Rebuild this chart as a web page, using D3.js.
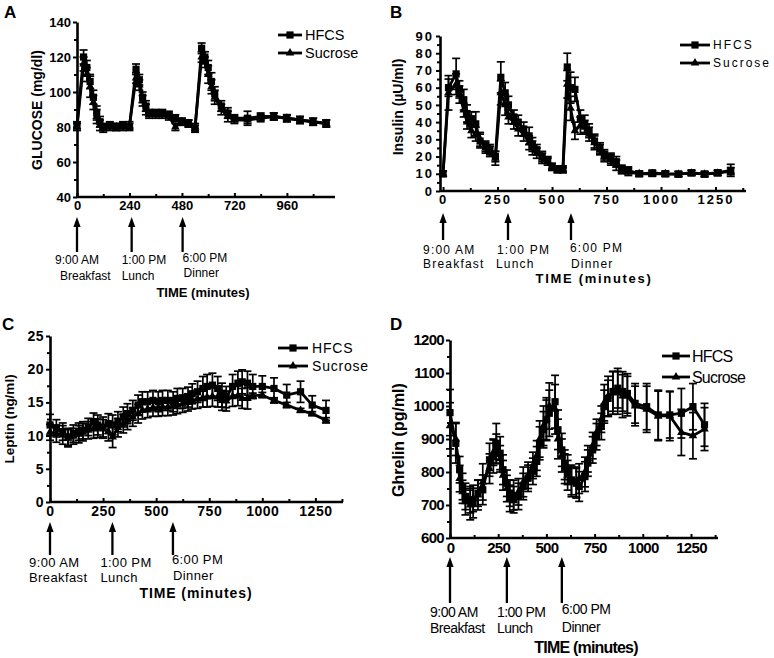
<!DOCTYPE html>
<html>
<head>
<meta charset="utf-8">
<script src="https://cdn.jsdelivr.net/npm/d3@7"></script>
<style>
body { margin: 0; background: #fff; }
svg { display: block; font-family: "Liberation Sans", Arial, sans-serif; }
</style>
</head>
<body>
<svg id="fig" width="774" height="658"></svg>
<script>
// ---- data (means and SEM) ----
// A: glucose (mg/dl)
var gluTime = [0, 30, 45, 60, 75, 90, 105, 120, 150, 180, 210, 240, 270, 285, 300, 315, 330, 360, 390, 420, 450, 480, 510, 540, 570, 585, 600, 615, 630, 660, 690, 720, 780, 840, 900, 960, 1020, 1080, 1140];
var gluHfcs = [81, 120, 114, 106, 97, 88, 83, 80, 81, 80, 81, 80, 113, 107, 97, 92, 88, 88, 88, 87, 85, 83, 82, 79, 125, 120, 114, 106, 99, 92, 88, 85, 85, 86, 86, 85, 84, 83, 82];
var gluHfcsSem = [2, 4, 4, 4, 4, 4, 3, 2, 2, 2, 2, 2, 3, 3, 3, 3, 2, 2, 2, 2, 2, 2, 2, 2, 3, 3, 4, 5, 4, 3, 3, 2, 4, 2, 2, 2, 2, 2, 2];
var gluSuc = [80, 116, 110, 103, 94, 86, 81, 79, 80, 80, 80, 81, 108, 104, 95, 90, 87, 87, 87, 86, 80, 83, 82, 80, 120, 117, 110, 103, 97, 90, 86, 84, 84, 85, 86, 85, 84, 83, 82];
var gluSucSem = [2, 4, 4, 6, 4, 4, 3, 2, 2, 2, 2, 2, 3, 3, 3, 3, 2, 2, 2, 2, 2, 2, 2, 2, 3, 3, 5, 4, 4, 3, 3, 2, 2, 2, 2, 2, 2, 2, 2];

// B: insulin (uU/ml)
var insTime = [0, 25, 60, 75, 95, 110, 130, 150, 170, 195, 215, 240, 265, 285, 300, 325, 345, 370, 395, 410, 430, 455, 480, 500, 525, 550, 570, 585, 605, 630, 650, 670, 695, 720, 740, 770, 795, 820, 850, 900, 960, 1020, 1080, 1140, 1200, 1260, 1320];
var insHfcs = [10, 60, 68, 59, 53, 45, 42, 39, 29, 26, 24, 20, 66, 57, 50, 43, 40, 36, 32, 27, 24, 20, 18, 14, 13, 13, 72, 60, 59, 42, 39, 35, 29, 25, 21, 19, 17, 13, 12, 10, 10.5, 10, 9.8, 10.6, 9.8, 10.6, 12];
var insHfcsSem = [1.5, 5, 9, 5, 6, 5, 4, 7, 4, 3, 3, 3, 9, 6, 5, 4, 4, 4, 5, 4, 3, 3, 2, 2, 1.5, 1.5, 8, 9, 7, 5, 5, 4, 4, 3, 3, 3, 3, 2, 2, 1.5, 1.5, 1.5, 1.5, 1.5, 1.5, 1.5, 3.5];
var insSuc = [10, 57, 62, 56, 47, 40, 35, 33, 30, 25, 23, 19, 57, 50, 43, 40, 36, 33, 28, 25, 22, 19, 17, 14, 12, 12, 62, 48, 35, 38, 37, 33, 28, 24, 20, 18, 15, 12, 11, 10, 10, 10, 9.8, 10.4, 9.8, 10.4, 11.5];
var insSucSem = [1.5, 10, 6, 5, 4, 4, 4, 4, 4, 3, 3, 4, 7, 6, 4, 4, 4, 4, 4, 4, 3, 3, 2, 2, 1.5, 1.5, 8, 7, 5, 5, 4, 4, 4, 3, 3, 3, 3, 2, 2, 1.5, 1.5, 1.5, 1.5, 1.5, 1.5, 1.5, 2];

// C: leptin (ng/ml)
var lepTime = [0, 30, 60, 85, 110, 135, 155, 180, 205, 225, 250, 275, 295, 320, 345, 365, 390, 415, 435, 460, 485, 510, 530, 555, 580, 600, 625, 650, 670, 695, 720, 740, 765, 790, 810, 830, 860, 885, 905, 930, 955, 1000, 1055, 1115, 1180, 1235, 1300];
var lepHfcs = [11.6, 11.1, 10.6, 9.8, 10.3, 10.6, 10.8, 11.3, 12.1, 11.6, 11.3, 11.8, 11.6, 12.1, 12.8, 13.3, 13.8, 14.6, 15.1, 15.1, 15.3, 15.1, 15.3, 15.3, 15.1, 15.6, 15.6, 15.8, 16.3, 16.6, 17.1, 17.4, 17.6, 17.1, 16.1, 15.8, 17.4, 17.9, 18.1, 17.9, 17.4, 17.4, 17.1, 16.1, 16.6, 14.6, 13.8];
var lepHfcsSem = [1.6, 1.3, 1.3, 1.3, 1.3, 1.3, 1.3, 1.3, 1.3, 1.5, 1.5, 1.5, 1.5, 1.5, 1.5, 1.5, 1.5, 1.5, 1.5, 1.5, 1.5, 1.5, 1.5, 1.5, 1.5, 1.5, 1.5, 1.5, 1.5, 1.6, 1.8, 1.8, 1.8, 1.8, 1.8, 1.6, 1.8, 1.8, 1.8, 1.8, 1.8, 1.6, 1.6, 1.6, 1.6, 1.4, 1.5];
var lepSuc = [10.5, 10.3, 10.1, 9.6, 9.9, 10.2, 10.5, 10.8, 11.0, 11.1, 11.0, 10.6, 9.8, 11.2, 11.8, 12.3, 12.8, 13.3, 13.8, 14.0, 14.2, 14.2, 14.3, 14.3, 14.4, 14.6, 14.8, 15.0, 15.3, 15.5, 15.7, 15.8, 15.9, 15.8, 15.3, 15.2, 15.9, 16.0, 15.6, 15.6, 16.0, 16.1, 15.3, 14.6, 13.8, 13.3, 12.3];
var lepSucSem = [1.2, 1.3, 1.4, 1.3, 1.2, 1.3, 1.3, 1.3, 1.4, 1.4, 1.4, 1.4, 1.6, 1.4, 1.4, 1.4, 1.4, 1.4, 1.3, 1.3, 1.3, 1.3, 1.3, 1.3, 1.3, 1.3, 1.3, 1.3, 1.3, 1.4, 1.4, 1.5, 1.5, 1.5, 1.5, 1.5, 1.5, 1.5, 1.5, 1.6, 0.4, 0.4, 0.4, 0.4, 0.3, 0.3, 0.4];

// D: ghrelin (pg/ml)
var ghrTime = [0, 30, 50, 65, 80, 105, 120, 145, 170, 205, 225, 240, 260, 275, 295, 310, 330, 355, 380, 405, 430, 450, 465, 485, 500, 515, 545, 560, 580, 595, 610, 630, 655, 670, 700, 715, 740, 760, 785, 800, 820, 845, 870, 895, 920, 960, 1020, 1080, 1140, 1200, 1260, 1320];
var ghrHfcs = [980, 887, 807, 756, 726, 716, 706, 736, 746, 837, 847, 887, 857, 807, 766, 736, 716, 726, 756, 781, 802, 832, 887, 928, 958, 978, 1013, 928, 867, 822, 807, 776, 766, 756, 786, 827, 867, 907, 938, 998, 1023, 1044, 1054, 1044, 1038, 1008, 998, 973, 973, 978, 998, 943];
var ghrHfcsSem = [70, 60, 40, 40, 40, 40, 45, 40, 45, 50, 50, 60, 50, 45, 40, 40, 40, 40, 40, 40, 40, 45, 50, 55, 60, 70, 80, 60, 50, 45, 45, 45, 45, 45, 45, 40, 40, 40, 40, 50, 55, 60, 60, 60, 60, 60, 70, 75, 70, 75, 70, 65];
var ghrSuc = [940, 900, 780, 740, 710, 700, 720, 730, 770, 810, 860, 870, 840, 790, 750, 720, 730, 740, 770, 790, 820, 850, 900, 940, 960, 1000, 990, 900, 850, 810, 790, 770, 770, 780, 800, 840, 880, 920, 960, 1010, 1030, 1040, 1040, 1030, 1030, 1000, 990, 970, 970, 920, 910, 930];
var ghrSucSem = [70, 50, 40, 35, 40, 45, 40, 45, 55, 45, 40, 45, 40, 45, 40, 40, 45, 40, 45, 40, 40, 45, 55, 60, 65, 70, 75, 60, 50, 45, 45, 45, 45, 45, 45, 40, 40, 40, 40, 55, 60, 65, 65, 65, 60, 60, 70, 75, 75, 70, 70, 65];

// tick labels
var gluXTicks = [0, 240, 480, 720, 960];
var gluYTicks = [40, 60, 80, 100, 120, 140];
var dayXTicks = [0, 250, 500, 750, 1000, 1250];
var insYTicks = [0, 10, 20, 30, 40, 50, 60, 70, 80, 90];
var lepYTicks = [0, 5, 10, 15, 20, 25];
var ghrYTicks = [600, 700, 800, 900, 1000, 1100, 1200];

var mealClock = ["9:00 AM", "1:00 PM", "6:00 PM"];
var mealName = ["Breakfast", "Lunch", "Dinner"];
var seriesNames = ["HFCS", "Sucrose"];

var svg = d3.select("#fig");
var fmt = d3.format("d");

function drawPanel(p) {
    var x = d3.scaleLinear().domain(p.xDomain).range(p.xRange);
    var y = d3.scaleLinear().domain(p.yDomain).range(p.yRange);
    var g = svg.append("g");
    var x0 = p.xRange[0], yBase = p.yRange[0];

    // y axis (major + minor, outward)
    var yMajor = g.append("g").attr("transform", "translate(" + x0 + ",0)")
        .call(d3.axisLeft(y).tickValues(p.yTicks).tickSizeInner(4).tickSizeOuter(0).tickPadding(2).tickFormat(fmt));
    g.append("g").attr("transform", "translate(" + x0 + ",0)")
        .call(d3.axisLeft(y).tickValues(p.yMinor).tickSize(3).tickFormat(""))
        .select(".domain").remove();
    // x axis (ticks point up into the plot)
    var xMajor = g.append("g").attr("transform", "translate(0," + yBase + ")")
        .call(d3.axisBottom(x).tickValues(p.xTicks).tickSizeInner(-4).tickSizeOuter(0).tickPadding(4).tickFormat(fmt));
    g.append("g").attr("transform", "translate(0," + yBase + ")")
        .call(d3.axisBottom(x).tickValues(p.xMinor).tickSize(-3).tickFormat(""))
        .select(".domain").remove();
    xMajor.select(".domain").attr("d", "M" + x0 + ",0H" + p.xRange[1]);

    g.selectAll(".domain").attr("stroke", "#000").attr("stroke-width", 2.6);
    g.selectAll(".tick line").attr("stroke", "#000").attr("stroke-width", 2);
    [yMajor, xMajor].forEach(function(a) {
        a.selectAll("text")
            .attr("fill", "#000")
            .style("font-family", "'Liberation Sans', Arial, sans-serif")
            .style("font-weight", "bold")
            .style("font-size", p.tickFont + "px")
            .style("letter-spacing", p.tickSpacing + "px");
    });

    // series: sucrose under hfcs
    var series = [
        {name: "Sucrose", t: p.time, v: p.suc, e: p.sucSem, mark: "tri"},
        {name: "HFCS", t: p.time, v: p.hfcs, e: p.hfcsSem, mark: "sq"}
    ];
    var line = d3.line().x(function(d) { return x(d[0]); }).y(function(d) { return y(d[1]); });
    series.forEach(function(s) {
        var pts = s.t.map(function(t, i) { return [t, s.v[i], s.e[i]]; });
        var eb = g.append("g").attr("stroke", "#000").attr("stroke-width", 1.7);
        pts.forEach(function(d) {
            var cx = x(d[0]), hi = y(d[1] + d[2]), lo = y(d[1] - d[2]);
            eb.append("line").attr("x1", cx).attr("x2", cx).attr("y1", hi).attr("y2", lo);
            eb.append("line").attr("x1", cx - 4).attr("x2", cx + 4).attr("y1", hi).attr("y2", hi);
            eb.append("line").attr("x1", cx - 4).attr("x2", cx + 4).attr("y1", lo).attr("y2", lo);
        });
        g.append("path").datum(pts).attr("d", line)
            .attr("fill", "none").attr("stroke", "#000").attr("stroke-width", 2.8);
        pts.forEach(function(d) {
            drawMark(g, s.mark, x(d[0]), y(d[1]));
        });
    });

    // legend
    var L = p.legend;
    seriesNames.forEach(function(name, i) {
        var ly = L.y[i];
        g.append("line").attr("x1", L.x1).attr("x2", L.x2).attr("y1", ly).attr("y2", ly)
            .attr("stroke", "#000").attr("stroke-width", 2.8);
        drawMark(g, i == 0 ? "sq" : "tri", (L.x1 + L.x2) / 2, ly);
        g.append("text").attr("x", L.tx).attr("y", ly).attr("dy", "0.36em")
            .style("font-size", L.size + "px").style("letter-spacing", L.spacing + "px")
            .text(name);
    });

    // meal arrows
    var A = p.arrows;
    A.t.forEach(function(t, i) {
        var ax = x(t);
        g.append("line").attr("x1", ax).attr("x2", ax).attr("y1", A.tip + 8).attr("y2", A.tail)
            .attr("stroke", "#000").attr("stroke-width", 2.3);
        g.append("path")
            .attr("d", "M" + ax + "," + A.tip + "L" + (ax - 3.6) + "," + (A.tip + 10) + "L" + (ax + 3.6) + "," + (A.tip + 10) + "Z")
            .attr("fill", "#000");
        g.append("text").attr("x", ax + A.dx1[i]).attr("y", A.y1[i])
            .style("font-size", p.noteFont + "px").style("letter-spacing", p.noteSpacing + "px")
            .text(mealClock[i]);
        g.append("text").attr("x", ax + A.dx2[i]).attr("y", A.y2[i])
            .style("font-size", p.noteFont + "px").style("letter-spacing", p.noteSpacing + "px")
            .text(mealName[i]);
    });

    // titles
    g.append("text").attr("x", p.xTitle[0]).attr("y", p.xTitle[1]).attr("text-anchor", "middle")
        .style("font-weight", "bold").style("font-size", p.xTitleFont + "px")
        .style("letter-spacing", p.xTitleSpacing + "px")
        .text("TIME (minutes)");
    g.append("text").attr("transform", "translate(" + p.yTitle[0] + "," + p.yTitle[1] + ") rotate(-90)")
        .attr("text-anchor", "middle").attr("dy", "0.35em")
        .style("font-weight", "bold").style("font-size", p.yTitleFont + "px")
        .text(p.yLabel);
    g.append("text").attr("x", p.letter[0]).attr("y", p.letter[1])
        .style("font-weight", "bold").style("font-size", "17px")
        .text(p.letterText);
}

function drawMark(g, kind, cx, cy) {
    if (kind == "sq") {
        g.append("rect").attr("x", cx - 3.6).attr("y", cy - 3.6).attr("width", 7.2).attr("height", 7.2).attr("fill", "#000");
    } else {
        g.append("path").attr("d", d3.symbol(d3.symbolTriangle, 32)())
            .attr("transform", "translate(" + cx + "," + cy + ")").attr("fill", "#000");
    }
}

drawPanel({
    letterText: "A", letter: [4, 18],
    time: gluTime, hfcs: gluHfcs, hfcsSem: gluHfcsSem, suc: gluSuc, sucSem: gluSucSem,
    xDomain: [0, 1180], xRange: [77, 335], yDomain: [40, 140], yRange: [197, 22],
    xTicks: gluXTicks, xMinor: d3.range(120, 1180, 240), yTicks: gluYTicks, yMinor: d3.range(50, 140, 20),
    tickFont: 13, tickSpacing: 0,
    yLabel: "GLUCOSE (mg/dl)", yTitle: [37, 110], yTitleFont: 14,
    xTitle: [203, 297], xTitleFont: 13, xTitleSpacing: 0,
    noteFont: 12, noteSpacing: 0,
    legend: {x1: 278, x2: 302, tx: 305, y: [35, 53], size: 14.5, spacing: 0},
    arrows: {t: [0, 250, 483], tip: 217, tail: 252, dx1: [-22, -10, 0], dx2: [-17, -10, 1], y1: [264, 264, 262], y2: [280, 280, 277]}
});

drawPanel({
    letterText: "B", letter: [390, 18],
    time: insTime, hfcs: insHfcs, hfcsSem: insHfcsSem, suc: insSuc, sucSem: insSucSem,
    xDomain: [-14, 1390], xRange: [440, 746], yDomain: [0, 90], yRange: [191, 36],
    xTicks: dayXTicks, xMinor: d3.range(125, 1390, 250), yTicks: insYTicks, yMinor: d3.range(5, 90, 10),
    tickFont: 13, tickSpacing: 2,
    yLabel: "Insulin (\u00b5U/ml)", yTitle: [398, 107], yTitleFont: 14,
    xTitle: [594, 283], xTitleFont: 13, xTitleSpacing: 1.7,
    noteFont: 12, noteSpacing: 1.2,
    legend: {x1: 680, x2: 710, tx: 713, y: [45, 63], size: 12, spacing: 2},
    arrows: {t: [0, 298, 587], tip: 213, tail: 240, dx1: [-20, -11, -1], dx2: [-20, -12, 0], y1: [254, 254, 252], y2: [268, 268, 268]}
});

drawPanel({
    letterText: "C", letter: [2, 330],
    time: lepTime, hfcs: lepHfcs, hfcsSem: lepHfcsSem, suc: lepSuc, sucSem: lepSucSem,
    xDomain: [0, 1380], xRange: [50, 343], yDomain: [0, 25], yRange: [502, 336],
    xTicks: dayXTicks, xMinor: d3.range(125, 1380, 250), yTicks: lepYTicks, yMinor: d3.range(2.5, 25, 5),
    tickFont: 14, tickSpacing: 0.5,
    yLabel: "Leptin (ng/ml)", yTitle: [9, 419], yTitleFont: 13.5,
    xTitle: [196, 598], xTitleFont: 14, xTitleSpacing: 0.9,
    noteFont: 13, noteSpacing: 0.4,
    legend: {x1: 278, x2: 308, tx: 312, y: [348, 366], size: 14, spacing: 0.8},
    arrows: {t: [0, 294, 579], tip: 522, tail: 555, dx1: [-21, -12, -1], dx2: [-21, -12, 0], y1: [567, 567, 564], y2: [582, 582, 580]}
});

drawPanel({
    letterText: "D", letter: [390, 330],
    time: ghrTime, hfcs: ghrHfcs, hfcsSem: ghrHfcsSem, suc: ghrSuc, sucSem: ghrSucSem,
    xDomain: [0, 1390], xRange: [450, 718], yDomain: [600, 1200], yRange: [538, 340],
    xTicks: dayXTicks, xMinor: d3.range(125, 1390, 250), yTicks: ghrYTicks, yMinor: d3.range(650, 1200, 100),
    tickFont: 15, tickSpacing: -0.7,
    yLabel: "Ghrelin (pg/ml)", yTitle: [398, 440], yTitleFont: 16,
    xTitle: [586, 653], xTitleFont: 16, xTitleSpacing: -0.8,
    noteFont: 14, noteSpacing: -0.5,
    legend: {x1: 662, x2: 690, tx: 692, y: [356, 377], size: 16, spacing: -0.8},
    arrows: {t: [0, 295, 580], tip: 557, tail: 603, dx1: [-20, -10, 0], dx2: [-20, -10, 0], y1: [617, 617, 614], y2: [633, 633, 632]}
});
</script>
</body>
</html>
